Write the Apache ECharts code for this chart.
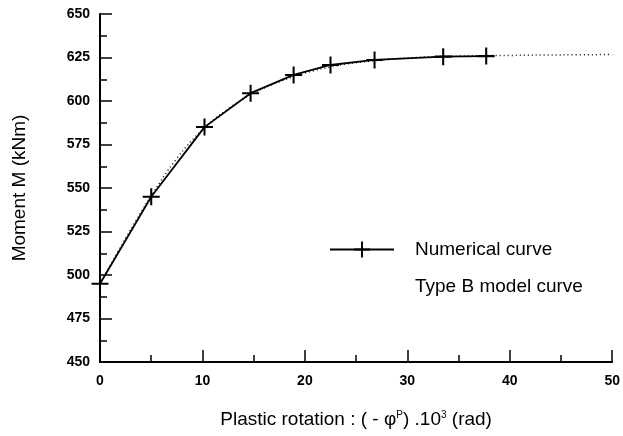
<!DOCTYPE html>
<html>
<head>
<meta charset="utf-8">
<script src="https://cdn.jsdelivr.net/npm/echarts@6/dist/echarts.min.js"></script>
<style>
  html, body { margin: 0; padding: 0; background: #fff; }
  #chart { width: 623px; height: 436px; }
</style>
</head>
<body>
<div id="chart"></div>
<script>
// Numerical curve (FE results): plastic rotation (x 10^3 rad) vs moment (kNm)
const numRotation = [0, 5, 10.2, 14.7, 18.9, 22.5, 26.8, 33.5, 37.7];
const numMoment   = [495, 545, 585, 604.5, 615, 620.7, 623.6, 625.5, 625.8];

// Type B model curve
const modelRotation = [0, 2.5, 5, 7.5, 10, 12.5, 15, 17.5, 20, 22.5, 25, 30, 35, 40, 45, 50];
const modelMoment   = [495, 521, 545.5, 567, 583.5, 595.5, 604.5, 611, 616, 619.6, 622, 624.7, 625.8, 626.2, 626.5, 626.7];

// Axis tick labels
const xTicks = [0, 10, 20, 30, 40, 50];
const yTicks = [450, 475, 500, 525, 550, 575, 600, 625, 650];

const FONT = 'Liberation Sans, Arial, sans-serif';
const plusPath = 'path://M-1.2,-10 H1.2 V-1.2 H10 V1.2 H1.2 V10 H-1.2 V1.2 H-10 V-1.2 H-1.2 Z';

const numData = numRotation.map((x, i) => [x, numMoment[i]]);
const modelData = modelRotation.map((x, i) => [x, modelMoment[i]]);

const chart = echarts.init(document.getElementById('chart'), null, { renderer: 'canvas' });

chart.setOption({
  backgroundColor: '#fff',
  animation: false,
  grid: { left: 100, right: 8.5, top: 14, bottom: 74, containLabel: false },
  legend: {
    orient: 'vertical',
    left: 329,
    top: 240,
    itemWidth: 64,
    itemHeight: 20,
    itemGap: 18,
    padding: 0,
    textStyle: { fontFamily: FONT, fontSize: 19, color: '#000', padding: [0, 0, 0, 16] },
    data: [
      { name: 'Numerical curve' },
      { name: 'Type B model curve', itemStyle: { opacity: 0 }, lineStyle: { opacity: 0 } }
    ]
  },
  xAxis: {
    type: 'value',
    min: xTicks[0],
    max: xTicks[xTicks.length - 1],
    interval: 10,
    name: 'Plastic rotation : ( - φ{sup|P}) .10{sup|3} (rad)',
    nameLocation: 'middle',
    nameGap: 48,
    nameTextStyle: {
      fontFamily: FONT, fontSize: 19, color: '#000',
      rich: { sup: { fontFamily: FONT, fontSize: 10, color: '#000', verticalAlign: 'top', padding: [0, 0, 9, 0] } }
    },
    axisLine: { lineStyle: { color: '#000', width: 2 } },
    axisTick: { inside: true, length: 12, lineStyle: { color: '#000', width: 1.5 } },
    minorTick: { show: true, splitNumber: 2, length: 7, lineStyle: { color: '#000', width: 1.5 } },
    axisLabel: { fontFamily: FONT, fontSize: 14, fontWeight: 'bold', color: '#000', margin: 12 },
    splitLine: { show: false }
  },
  yAxis: {
    type: 'value',
    min: yTicks[0],
    max: yTicks[yTicks.length - 1],
    interval: 25,
    name: 'Moment M (kNm)',
    nameLocation: 'middle',
    nameGap: 71,
    nameTextStyle: { fontFamily: FONT, fontSize: 19, color: '#000' },
    axisLine: { lineStyle: { color: '#000', width: 2 } },
    axisTick: { inside: true, length: 12, lineStyle: { color: '#000', width: 1.5 } },
    minorTick: { show: true, splitNumber: 2, length: 7, lineStyle: { color: '#000', width: 1.5 } },
    axisLabel: { fontFamily: FONT, fontSize: 14, fontWeight: 'bold', color: '#000', margin: 10 },
    splitLine: { show: false }
  },
  series: [
    {
      name: 'Type B model curve',
      type: 'line',
      data: modelData,
      smooth: 0.4,
      showSymbol: false,
      symbol: 'none',
      clip: false,
      lineStyle: { color: '#111', width: 1.5, type: [1, 3] },
      z: 2
    },
    {
      name: 'Numerical curve',
      type: 'line',
      data: numData,
      symbol: plusPath,
      symbolSize: 17,
      clip: false,
      itemStyle: { color: '#000' },
      lineStyle: { color: '#000', width: 1.8 },
      z: 3
    }
  ]
});
</script>
</body>
</html>
